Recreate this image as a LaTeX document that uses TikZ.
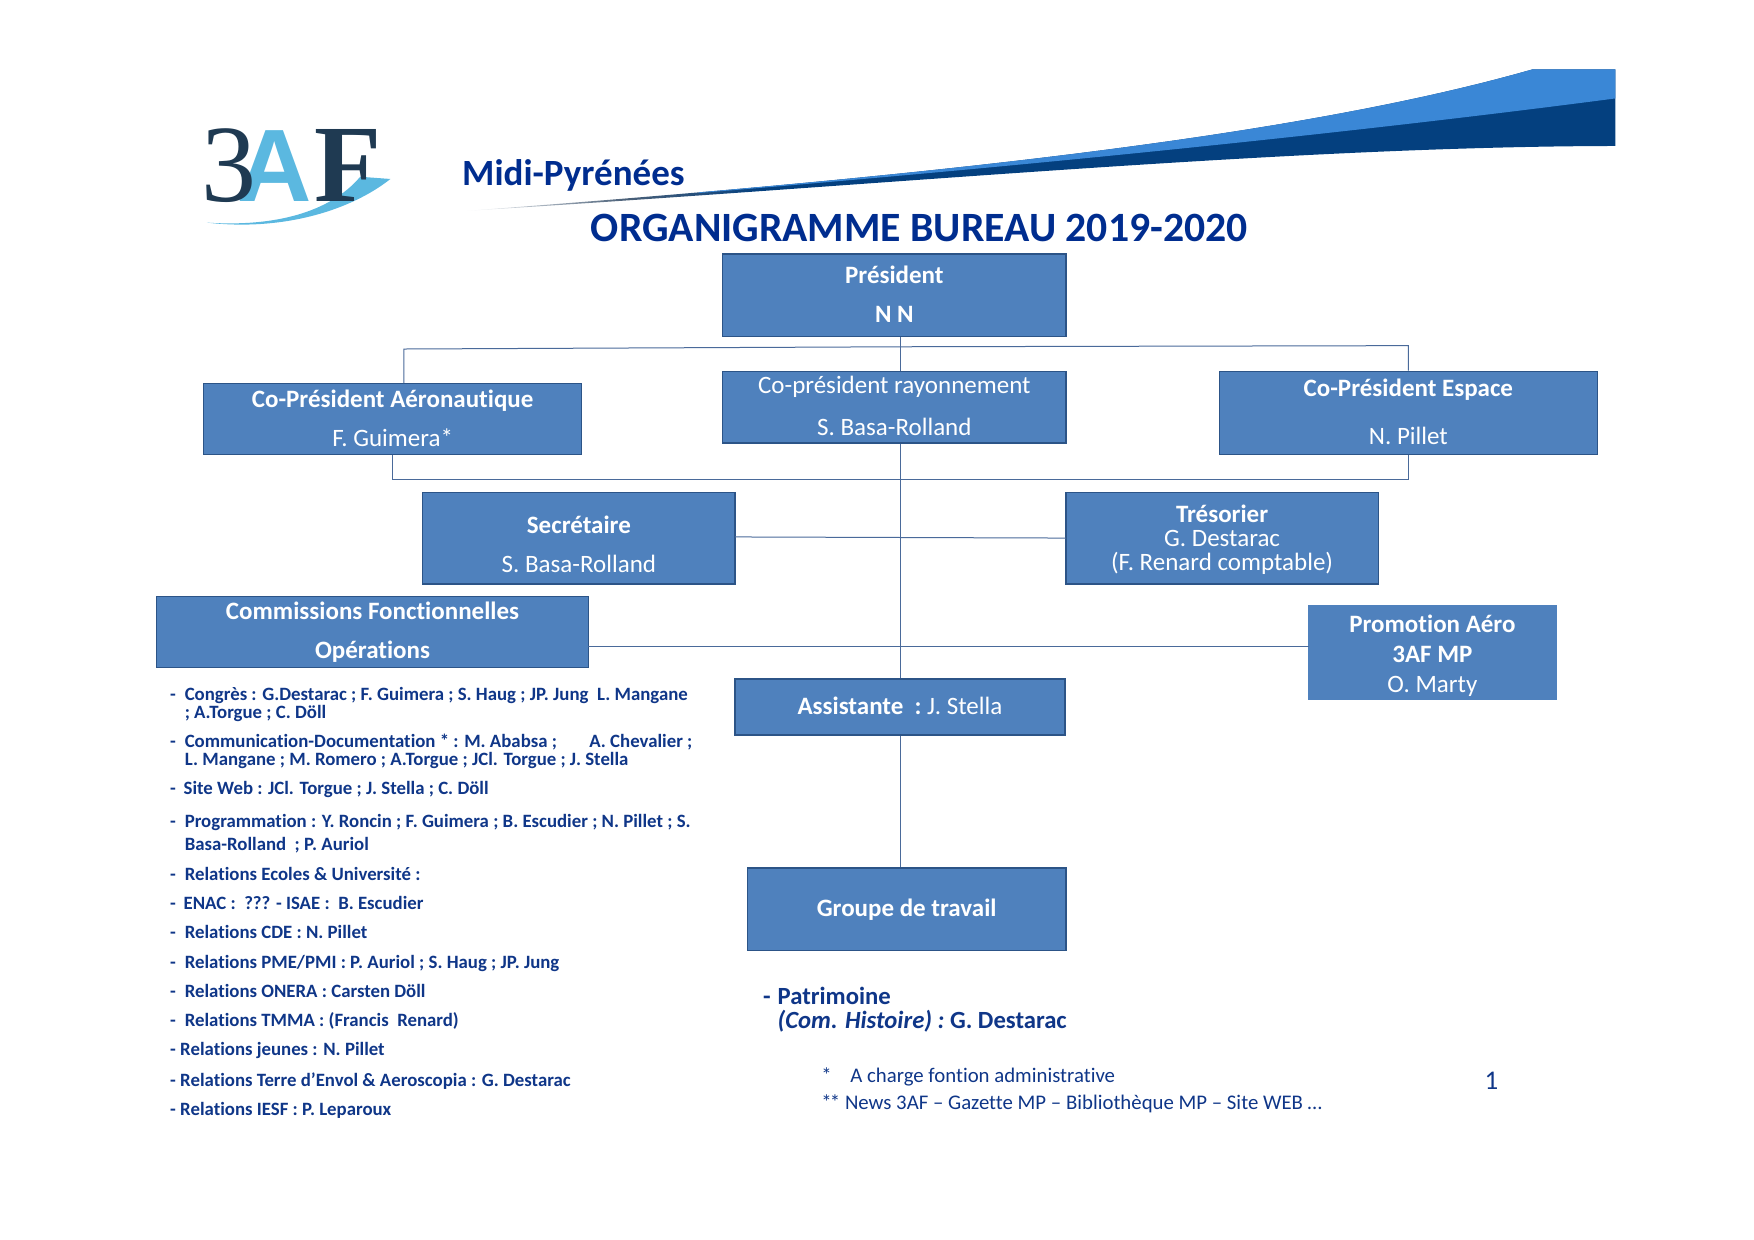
\documentclass[tikz,border=0pt]{standalone}
\usepackage{fontspec}
\setmainfont{Carlito}[Ligatures=NoCommon]
\definecolor{boxfill}{HTML}{4F81BD}
\definecolor{boxline}{HTML}{2C5487}
\definecolor{conn}{HTML}{4A6A9A}
\definecolor{titleblue}{HTML}{002D8F}
\definecolor{listblue}{HTML}{0F3688}
\definecolor{swlight}{HTML}{3A87D6}
\definecolor{swdark}{HTML}{04407F}
\definecolor{swtail}{HTML}{4A6078}
\definecolor{logodark}{HTML}{1F3A52}
\definecolor{logolight}{HTML}{5BB8E0}
\newcommand{\fsz}[1]{\fontsize{#1}{#1}\selectfont}
\newcommand{\upby}{\rule[-2.2pt]{0pt}{2.2pt}}
\tikzset{
  bx/.style={draw=boxline,line width=1.3pt,fill=boxfill,text=white,inner sep=0pt,align=center,font=\fontsize{25}{#1}\selectfont},
  bx/.default=30,
  cn/.style={draw=conn,line width=1pt},
  item/.style={anchor=base west,inner sep=0pt,text=listblue,font=\fsz{18.8}\bfseries},
  note/.style={anchor=base west,inner sep=0pt,text=listblue,font=\fsz{20.8}},
  big/.style={anchor=base west,inner sep=0pt,text=listblue,font=\fsz{24.7}\bfseries},
  logoserif/.style={anchor=base west,inner sep=0pt,font=\fontspec{Liberation Serif}\fsz{110}},
  logoserifb/.style={anchor=base west,inner sep=0pt,font=\fontspec{Liberation Serif Bold}\fsz{110}},
  logosans/.style={anchor=base west,inner sep=0pt,font=\fontspec{Liberation Sans Bold}\fsz{103}}
}
\begin{document}
\begin{tikzpicture}[x=1.1186pt,y=-1.1186pt]
\useasboundingbox (0,0) rectangle (1568,1108.5);
% banner
\begin{scope}
\clip (417,188.5) .. controls (800,160) and (1150,125) .. (1370,62) -- (1444,62) -- (1444,130.5) .. controls (1150,131) and (800,165) .. (417,188.5) -- cycle;
\shade[left color=white,right color=swtail] (415,50) rectangle (560,200);
\shade[left color=swtail,right color=swdark] (560,50) rectangle (680,200);
\fill[swdark] (680,50) rectangle (1450,200);
\fill[swlight] (625,172.5) .. controls (900,150) and (1200,120) .. (1444,88) -- (1444,50) -- (625,50) -- cycle;
\end{scope}
% logo
\fill[logolight] (185,199) .. controls (245,203) and (295,190) .. (322,158) -- (349,160) .. controls (315,187) and (255,207) .. (185,199) -- cycle;
\node[logosans,text=logolight] (logoA) at (212,180) {A};
\node[logoserif,text=logodark] (logo3) at (180,180) {3};
\node[logoserifb,text=logodark] (logoF) at (281,180) {F};
% titles
\node[anchor=base west,inner sep=0pt,text=titleblue,font=\fsz{37}\bfseries] (region) at (413,165.5) {Midi-Pyrénées};
\node[anchor=base west,inner sep=0pt,text=titleblue,font=\fsz{41.7}\bfseries] (title) at (528,216) {ORGANIGRAMME BUREAU 2019-2020};
% boxes
\node[bx=39,minimum width=307*1.1186pt,minimum height=74*1.1186pt] (pres) at (799.5,264) {\bfseries Président\\\bfseries N N\upby};
\node[bx=39,minimum width=338*1.1186pt,minimum height=63*1.1186pt] (aero) at (351,374.5) {\bfseries Co-Président Aéronautique\\F. Guimera*\upby};
\node[bx=42,minimum width=307*1.1186pt,minimum height=64*1.1186pt] (rayon) at (799.5,364) {Co-président rayonnement\\S. Basa-Rolland\upby};
\node[bx=48,minimum width=338*1.1186pt,minimum height=74*1.1186pt] (espace) at (1259,369) {\bfseries Co-Président Espace\\N. Pillet\upby};
\node[bx=39,minimum width=279*1.1186pt,minimum height=82*1.1186pt] (secr) at (517.5,481) {\rule{0pt}{29.5pt}\bfseries Secrétaire\\S. Basa-Rolland};
\node[bx=24,minimum width=279*1.1186pt,minimum height=82*1.1186pt] (tres) at (1092.5,481) {\rule{0pt}{20.2pt}\bfseries Trésorier\\G. Destarac\\(F. Renard comptable)};
\node[bx=39,minimum width=386*1.1186pt,minimum height=64*1.1186pt] (comm) at (333,565) {\bfseries Commissions Fonctionnelles\\\bfseries Opérations};
\node[bx=30,draw=boxfill,minimum width=221*1.1186pt,minimum height=84*1.1186pt] (promo) at (1280.5,583) {\rule{0pt}{24.7pt}\bfseries Promotion Aéro\\\bfseries 3AF MP\\O. Marty};
\node[bx,minimum width=295*1.1186pt,minimum height=50*1.1186pt] (assist) at (804.5,632) {\bfseries Assistante\ \ :\ \mdseries J. Stella\upby};
\node[bx,minimum width=285*1.1186pt,minimum height=74*1.1186pt] (groupe) at (810.5,813) {\bfseries Groupe de travail};
% connector coordinates
\coordinate (spine) at (805,0);
\coordinate (topL) at (361,312);
\coordinate (topM) at (805,310);
\coordinate (topR) at (1259,309);
\coordinate (lowL) at (351,429);
\coordinate (lowM) at (805,429);
\coordinate (lowR) at (1259,429);
\coordinate (secrout) at (657,480);
\coordinate (tresin) at (953,481);
\coordinate (commout) at (526,578);
\coordinate (promoin) at (1170,578);
% connectors
\draw[cn] (pres.south -| spine) -- (rayon.north -| spine);
\draw[cn] (rayon.south -| spine) -- (assist.north -| spine);
\draw[cn] (assist.south -| spine) -- (groupe.north -| spine);
\draw[cn] (aero.north -| topL) -- (topL) -- (topM) -- (topR) -- (espace.north -| topR);
\draw[cn] (aero.south -| lowL) -- (lowL) -- (lowM) -- (lowR) -- (espace.south -| lowR);
\draw[cn] (secrout) -- (tresin);
\draw[cn] (commout) -- (promoin);
% list
\node[item] (d1) at (152,626) {-};
\node[item] (t1) at (165,626) {Congrès : G.Destarac ; F. Guimera ; S. Haug ; JP. Jung\ \ L. Mangane};
\node[item] (t1b) at (165,642) {; A.Torgue ; C. Döll};
\node[item] (d2) at (152,668) {-};
\node[item] (t2) at (165,668) {Communication-Documentation * : M. Ababsa ;\hspace{1.5em}\ A. Chevalier ;};
\node[item] (t2b) at (165,684) {L. Mangane ; M. Romero ; A.Torgue ; JCl. Torgue ; J. Stella};
\node[item] (d3) at (152,710) {-};
\node[item] (t3) at (164,710) {Site Web : JCl. Torgue ; J. Stella ; C. Döll};
\node[item] (d4) at (152,740) {-};
\node[item] (t4) at (165,740) {Programmation : Y. Roncin ; F. Guimera ; B. Escudier ; N. Pillet ; S.};
\node[item] (t4b) at (165,760) {Basa-Rolland\ \ ; P. Auriol};
\node[item] (d5) at (152,787) {-};
\node[item] (t5) at (165,787) {Relations Ecoles \& Université :};
\node[item] (d6) at (152,813) {-};
\node[item] (t6) at (164,813) {ENAC :\ \ ??? - ISAE :\ \ B. Escudier};
\node[item] (d7) at (152,839) {-};
\node[item] (t7) at (165,839) {Relations CDE : N. Pillet};
\node[item] (d8) at (152,866) {-};
\node[item] (t8) at (165,866) {Relations PME/PMI : P. Auriol ; S. Haug ; JP. Jung};
\node[item] (d9) at (152,892) {-};
\node[item] (t9) at (165,892) {Relations ONERA : Carsten Döll};
\node[item] (d10) at (152,918) {-};
\node[item] (t10) at (165,918) {Relations TMMA : (Francis\ \ Renard)};
\node[item] (t11) at (152,944) {- Relations jeunes : N. Pillet};
\node[item] (t12) at (152,971) {- Relations Terre d’Envol \& Aeroscopia : G. Destarac};
\node[item] (t13) at (152,997) {- Relations IESF : P. Leparoux};
% right column
\node[big] (pd) at (682,898) {-};
\node[big] (p1) at (695,898) {Patrimoine};
\node[big] (p2) at (695,919) {\itshape (Com. Histoire) :\ \upshape G. Destarac};
\node[note] (n1s) at (734,968) {*};
\node[note] (n1) at (760,968) {A charge fontion administrative};
\node[note] (n2) at (734,992) {*\kern-0.08em* News 3AF – Gazette MP – Bibliothèque MP – Site WEB …};
\node[anchor=base west,inner sep=0pt,text=listblue,font=\fsz{27}] (pageno) at (1327,974) {1};
\end{tikzpicture}
\end{document}
